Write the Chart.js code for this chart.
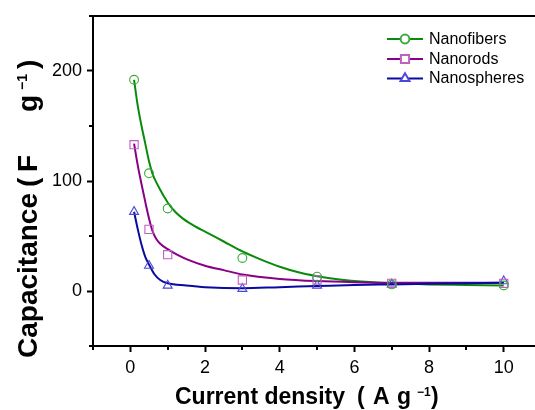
<!DOCTYPE html>
<html><head><meta charset="utf-8">
<script src="https://cdn.jsdelivr.net/npm/chart.js@4"></script>
<style>html,body{margin:0;padding:0;overflow:hidden;background:#fff;width:535px;height:410px}canvas{display:block}</style>
</head><body>
<canvas id="c" width="548" height="410" style="width:548px;height:410px"></canvas>
<script>
// ---- data ----
const seriesNames = ['Nanofibers', 'Nanorods', 'Nanospheres'];
const measuredX = [0.1, 0.5, 1, 3, 5, 7, 10];
const fibersY = [192, 107, 75, 30, 13, 6, 5];
const rodsY = [133, 56, 33, 10, 10, 7, 7];
const spheresY = [72, 23, 5, 2, 5, 6, 9];

// fitted curves
const fibersFitX = [0.1, 0.2, 0.3, 0.4, 0.5, 0.6, 0.7, 0.8, 0.9, 1, 1.2, 1.4, 1.6, 1.8, 2, 2.5, 3, 3.5, 4, 4.5, 5, 5.5, 6, 7, 8, 9, 10];
const fibersFitY = [192, 168, 150, 134, 118, 106, 98.5, 92, 86, 80.5, 72, 66, 61.5, 57.5, 54, 45, 36, 28.5, 22, 17, 13.5, 11, 9, 7, 6, 5.5, 5];
const rodsFitX = [0.1, 0.2, 0.3, 0.4, 0.5, 0.6, 0.7, 0.8, 1, 1.25, 1.5, 2, 2.5, 3, 4, 5, 6, 7, 8, 10];
const rodsFitY = [134, 114, 97, 81, 66, 54, 47, 43, 38, 33, 29, 23, 19, 15, 11, 9, 8, 7.5, 7.5, 7.5];
const spheresFitX = [0.1, 0.2, 0.3, 0.4, 0.5, 0.65, 0.8, 1, 1.5, 2, 3, 4, 5, 6, 7, 8, 10];
const spheresFitY = [72, 56, 42, 31, 24, 15, 10, 7, 5, 3.5, 2.5, 3.5, 4.5, 5.5, 6, 6.5, 7.5];

const xMajorTicks = [0, 2, 4, 6, 8, 10];
const xMinorTicks = [-1, 1, 3, 5, 7, 9];
const yMajorTicks = [0, 100, 200];
const yMinorTicks = [-50, 50, 150, 250];

const lineColors = ['#0a8a0a', '#880088', '#0a0aa0'];
const markerColors = ['#3aaa3a', '#c060c0', '#4a4ad8'];
const markerStyles = ['circle', 'rect', 'triangle'];
const markerRadii = [4.4, 5.8, 5.2];

const FONT = "'Liberation Sans', Arial, Helvetica, sans-serif";

function pts(xs, ys) { return xs.map((x, i) => ({ x: x, y: ys[i] })); }

const fits = [[fibersFitX, fibersFitY], [rodsFitX, rodsFitY], [spheresFitX, spheresFitY]];
const meas = [fibersY, rodsY, spheresY];

const datasets = [];
meas.forEach((ys, i) => {
  datasets.push({
    label: seriesNames[i] + ' data', data: pts(measuredX, ys), showLine: false,
    pointStyle: markerStyles[i], pointRadius: markerRadii[i], pointBorderWidth: 1.1,
    pointBorderColor: markerColors[i], pointBackgroundColor: 'rgba(255,255,255,0)', order: 0
  });
});
fits.forEach((f, i) => {
  datasets.push({
    label: seriesNames[i], data: pts(f[0], f[1]), showLine: true, pointRadius: 0,
    borderColor: lineColors[i], borderWidth: 2, cubicInterpolationMode: 'monotone', fill: false,
    order: 3 - i
  });
});

const decor = {
  id: 'decor',
  afterDraw(chart) {
    const ctx = chart.ctx, a = chart.chartArea, xs = chart.scales.x, ys = chart.scales.y;
    ctx.save();
    ctx.strokeStyle = '#000'; ctx.lineWidth = 2;
    ctx.beginPath(); ctx.moveTo(a.left - 1, a.top); ctx.lineTo(a.right, a.top); ctx.stroke();
    ctx.lineWidth = 2;
    xMinorTicks.forEach(v => { const px = Math.round(xs.getPixelForValue(v)); ctx.beginPath(); ctx.moveTo(px, a.bottom); ctx.lineTo(px, a.bottom + 4); ctx.stroke(); });
    yMinorTicks.forEach(v => { const py = Math.round(ys.getPixelForValue(v)); ctx.beginPath(); ctx.moveTo(a.left, py); ctx.lineTo(a.left - 4, py); ctx.stroke(); });

    // legend
    const rows = [39, 59, 78.5];
    seriesNames.forEach((n, i) => {
      ctx.strokeStyle = lineColors[i]; ctx.lineWidth = 2;
      ctx.beginPath(); ctx.moveTo(387, rows[i]); ctx.lineTo(423, rows[i]); ctx.stroke();
      ctx.fillStyle = '#fff';
      ctx.strokeStyle = markerColors[i];
      Chart.helpers.drawPoint(ctx, { pointStyle: markerStyles[i], radius: markerRadii[i], borderWidth: 1.1, rotation: 0 }, 405, rows[i]);
      ctx.fillStyle = '#000'; ctx.font = '16px ' + FONT; ctx.textBaseline = 'middle'; ctx.textAlign = 'left';
      ctx.fillText(n, 429, rows[i] + 0.5);
    });

    // x title
    ctx.fillStyle = '#000'; ctx.textBaseline = 'alphabetic'; ctx.textAlign = 'left';
    ctx.font = 'bold 23px ' + FONT;
    ctx.fillText('Current density', 175, 404);
    ctx.fillText('(', 357, 404);
    ctx.fillText('A', 373, 404);
    ctx.fillText('g', 397, 404);
    ctx.fillText(')', 431, 404);
    ctx.font = 'bold 12px ' + FONT;
    ctx.fillText('\u22121', 417, 396);

    // y title
    ctx.translate(36.5, 358); ctx.rotate(-Math.PI / 2);
    ctx.font = 'bold 28px ' + FONT;
    ctx.fillText('Capacitance', 0, 0);
    ctx.fillText('(', 358 - 187, 0);
    ctx.fillText('F', 358 - 172, 0);
    ctx.fillText('g', 358 - 112, 0);
    ctx.fillText(')', 358 - 69, 0);
    ctx.font = 'bold 14px ' + FONT;
    ctx.fillText('\u22121', 358 - 90, -10);
    ctx.restore();
  }
};

new Chart(document.getElementById('c'), {
  type: 'scatter',
  data: { datasets: datasets },
  options: {
    responsive: false, devicePixelRatio: 1, animation: false,
    layout: { padding: { top: 16, right: 5, left: 0, bottom: 0 } },
    plugins: { legend: { display: false }, tooltip: { enabled: false } },
    scales: {
      x: {
        type: 'linear', position: 'bottom', min: -1, max: 11,
        afterBuildTicks: s => { s.ticks = xMajorTicks.map(v => ({ value: v })); },
        afterFit: s => { s.height = 64; },
        ticks: { color: '#000', font: { family: FONT, size: 18 }, padding: 5, maxRotation: 0, autoSkip: false },
        grid: { drawOnChartArea: false, drawTicks: true, tickLength: 6, tickWidth: 2, tickColor: '#000' },
        border: { display: true, color: '#000', width: 2 }
      },
      y: {
        type: 'linear', position: 'left', min: -50, max: 250,
        afterBuildTicks: s => { s.ticks = yMajorTicks.map(v => ({ value: v })); },
        afterFit: s => { s.width = 93; },
        ticks: { color: '#000', font: { family: FONT, size: 18 }, padding: 5 },
        grid: { drawOnChartArea: false, drawTicks: true, tickLength: 6, tickWidth: 2, tickColor: '#000' },
        border: { display: true, color: '#000', width: 2 }
      }
    }
  },
  plugins: [decor]
});
</script>
</body></html>
